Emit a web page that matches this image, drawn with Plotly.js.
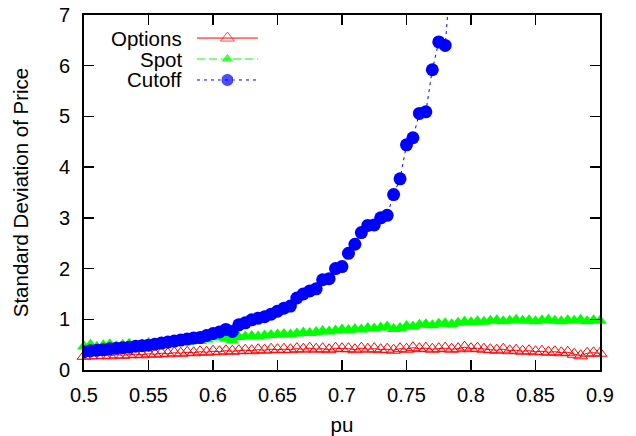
<!DOCTYPE html>
<html>
<head>
<meta charset="utf-8">
<script src="https://cdn.plot.ly/plotly-3.0.1.min.js"></script>
<style>html,body{margin:0;padding:0;background:#fff;}#chart{width:636px;height:436px;}</style>
</head>
<body>
<div id="chart"></div>
<script>
// x grid: pu from 0.50 to 0.90 step 0.005
const pu = [];
for (let i = 0; i <= 80; i++) pu.push(+(0.5 + i * 0.005).toFixed(3));

const optionsSD = [
  0.27,0.28,0.28,0.29,0.28,0.30,0.29,0.30,0.31,0.30,0.32,
  0.31,0.33,0.32,0.34,0.33,0.35,0.34,0.36,0.35,0.37,
  0.36,0.38,0.37,0.38,0.39,0.38,0.40,0.39,0.41,0.40,
  0.41,0.40,0.42,0.41,0.43,0.41,0.42,0.40,0.43,0.42,
  0.42,0.40,0.43,0.41,0.42,0.40,0.41,0.39,0.42,0.41,
  0.44,0.42,0.43,0.41,0.42,0.43,0.41,0.42,0.45,0.42,
  0.43,0.41,0.40,0.39,0.41,0.38,0.39,0.37,0.38,0.36,
  0.37,0.35,0.36,0.34,0.35,0.31,0.28,0.33,0.34,0.33
];

const spotSD = [
  0.47,0.50,0.46,0.49,0.51,0.47,0.50,0.52,0.48,0.51,0.53,
  0.50,0.54,0.56,0.53,0.57,0.55,0.59,0.57,0.60,0.64,
  0.65,0.62,0.58,0.65,0.66,0.67,0.66,0.68,0.69,0.70,
  0.71,0.70,0.72,0.74,0.73,0.75,0.77,0.76,0.78,0.80,
  0.79,0.81,0.80,0.83,0.82,0.84,0.86,0.81,0.83,0.87,
  0.86,0.89,0.90,0.88,0.91,0.92,0.90,0.93,0.95,0.94,
  0.96,0.95,0.97,0.98,0.96,0.97,0.99,0.97,0.98,0.96,
  0.98,0.99,0.97,0.96,0.98,0.97,0.99,0.96,0.98,0.97
];

const cutoffX = pu.slice(0, 59);
const cutoffSD = [
  0.36,0.38,0.39,0.40,0.42,0.43,0.44,0.45,0.47,0.48,0.49,
  0.51,0.53,0.55,0.57,0.59,0.61,0.63,0.64,0.68,0.72,
  0.75,0.80,0.76,0.89,0.93,0.99,1.02,1.05,1.10,1.16,
  1.22,1.26,1.42,1.50,1.56,1.60,1.78,1.80,2.00,2.04,
  2.30,2.48,2.71,2.85,2.86,3.00,3.05,3.46,3.77,4.44,
  4.58,5.06,5.09,5.92,6.47,6.40,8.30,9.60
];

const seriesNames = ['Options', 'Spot', 'Cutoff'];
const xTicks = [0.5,0.55,0.6,0.65,0.7,0.75,0.8,0.85,0.9];
const yTicks = [0,1,2,3,4,5,6,7];

const FONT = 'Liberation Sans, Arial, Helvetica, sans-serif';
const RED = '#ff0000', GREEN = '#00ff00', BLUE = '#0000ff';

const traces = [
  {x: pu, y: optionsSD, mode: 'lines+markers', cliponaxis: false,
   line: {color: RED, width: 1},
   marker: {symbol: 'triangle-up-open', size: 12, color: RED, line: {width: 1, color: RED}}},
  {x: pu, y: spotSD, mode: 'lines+markers', cliponaxis: false,
   line: {color: GREEN, width: 1, dash: '8px,4px'},
   marker: {symbol: 'triangle-up', size: 12, color: GREEN}},
  {x: cutoffX, y: cutoffSD, mode: 'lines+markers', cliponaxis: true,
   line: {color: BLUE, width: 1, dash: '3px,4px'},
   marker: {symbol: 'circle', size: 13, color: BLUE}}
];

// custom gnuplot-style key (text right-aligned, sample to the right)
const keyRowsY = [0.935, 0.876, 0.817];
const keyStyles = [
  {line: {color: RED, width: 1}, marker: {symbol: 'triangle-up-open', color: RED, line: {width: 1, color: RED}}},
  {line: {color: GREEN, width: 1, dash: '8px,4px'}, marker: {symbol: 'triangle-up', color: GREEN}},
  {line: {color: BLUE, width: 1, dash: '3px,4px'}, marker: {symbol: 'circle', color: BLUE}}
];
const annotations = [];
seriesNames.forEach((name, i) => {
  const yy = keyRowsY[i];
  traces.push({
    x: [0.219, 0.278, 0.337], y: [yy, yy, yy], xaxis: 'x2', yaxis: 'y2',
    mode: 'lines+markers', hoverinfo: 'skip', showlegend: false, cliponaxis: false,
    line: keyStyles[i].line,
    marker: Object.assign({size: [0, i === 2 ? 13 : 12, 0]}, keyStyles[i].marker)
  });
  annotations.push({xref: 'paper', yref: 'paper', x: 0.192, y: yy, xanchor: 'right', yanchor: 'middle',
    borderpad: 0, text: name, showarrow: false, font: {family: FONT, size: 20.5, color: '#000'}});
});

const axisCommon = {
  showgrid: false, zeroline: false, showline: true, linecolor: '#000', linewidth: 2,
  mirror: 'ticks', ticks: 'inside', ticklen: 10, tickwidth: 1.5, tickcolor: '#000',
  tickfont: {family: FONT, size: 20, color: '#000'}
};

const layout = {
  width: 636, height: 436,
  margin: {l: 84, r: 36, t: 15, b: 66},
  paper_bgcolor: '#fff', plot_bgcolor: '#fff',
  showlegend: false,
  font: {family: FONT, size: 20, color: '#000'},
  xaxis: Object.assign({}, axisCommon, {range: [0.5, 0.9], tickvals: xTicks, ticktext: xTicks.map(String),
    ticklabelstandoff: 6,
    title: {text: 'pu', font: {family: FONT, size: 20.5}, standoff: 14}}),
  yaxis: Object.assign({}, axisCommon, {range: [0, 7], tickvals: yTicks, ticktext: yTicks.map(String),
    ticklabelstandoff: 8,
    title: {text: 'Standard Deviation of Price', font: {family: FONT, size: 20.5}, standoff: 25}}),
  xaxis2: {overlaying: 'x', range: [0, 1], visible: false, fixedrange: true},
  yaxis2: {overlaying: 'y', range: [0, 1], visible: false, fixedrange: true},
  annotations: annotations
};

Plotly.newPlot('chart', traces, layout, {displayModeBar: false, staticPlot: true});
</script>
</body>
</html>
